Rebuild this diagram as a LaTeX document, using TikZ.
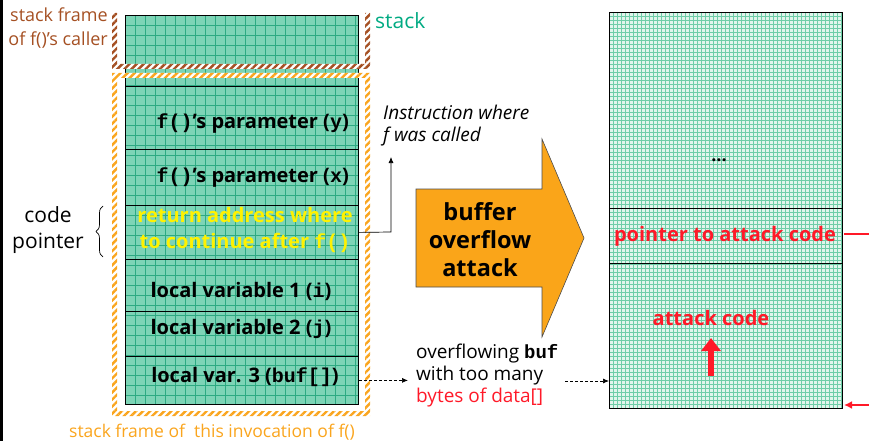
\documentclass[tikz,border=0pt]{standalone}
\usepackage{fontspec}
\setmainfont{Open Sans}
\newfontfamily\codefont{Liberation Mono}
\usetikzlibrary{patterns.meta,arrows.meta,decorations.pathreplacing,calc}
\definecolor{leftfill}{RGB}{125,212,182}
\definecolor{leftgrid}{RGB}{45,170,130}
\definecolor{rightfill}{RGB}{225,245,236}
\definecolor{rightgrid}{RGB}{110,205,168}
\definecolor{brownF}{RGB}{165,80,35}
\definecolor{orangeF}{RGB}{250,165,30}
\definecolor{stackgreen}{RGB}{0,170,130}
\definecolor{attackred}{RGB}{255,25,40}
\definecolor{arrowfill}{RGB}{250,165,25}
\newcommand{\cf}[1]{{\codefont\bfseries #1}}
\begin{document}
\begin{tikzpicture}[x=1pt,y=-1pt,
  cell/.style={draw=black, line width=0.8pt, minimum width=233pt, inner sep=0pt, anchor=north west},
  celltext/.style={font=\bfseries\fontsize{20}{26}\selectfont, inner sep=0pt},
  redtext/.style={font=\bfseries\fontsize{20}{24}\selectfont, text=attackred, inner sep=0pt},
  label/.style={font=\fontsize{18}{24}\selectfont, inner sep=0pt, align=left},
  dasharrow/.style={densely dashed, line width=0.7pt, -{Latex[length=6pt,width=5pt]}}]
\useasboundingbox (0,0) rectangle (869,441);
\draw[line width=3pt] (1.5,0) -- (1.5,441);

% ---------- left stack ----------
\begin{scope}
  \clip (125,15) rectangle (358,404);
  \fill[leftfill] (125,15) rectangle (358,404);
  \foreach \gx in {125,135,...,365} \draw[leftgrid, line width=0.6pt] (\gx,15) -- (\gx,404);
  \foreach \gy in {15,25,...,405} \draw[leftgrid, line width=0.6pt] (125,\gy) -- (358,\gy);
\end{scope}
\node[cell, minimum height=71pt] (caller) at (125,15) {};
\node[cell, minimum height=63pt] (py) at (125,86) {};
\node[cell, minimum height=56pt] (px) at (125,149) {};
\node[cell, minimum height=54pt] (ret) at (125,205) {};
\node[cell, minimum height=52pt] (l1) at (125,259) {};
\node[cell, minimum height=45pt] (l2) at (125,311) {};
\node[cell, minimum height=48pt] (l3) at (125,356) {};

\node[celltext, anchor=east] (tpy) at (349,124) {\cf{f()}'s parameter (\cf{y})};
\node[celltext, anchor=east] (tpx) at (349,178) {\cf{f()}'s parameter (\cf{x})};
\node[celltext, text=yellow, align=center] (tret) at (245,230) {return address where\\to continue after \cf{f()}};
\node[celltext] (tl1) at (241,291) {local variable 1 (\cf{i})};
\node[celltext] (tl2) at (241,329) {local variable 2 (\cf{j})};
\node[celltext] (tl3) at (245,377) {local var. 3 (\cf{buf[]})};

% ---------- frames ----------
\fill[white] (112,13) -- (112,69) -- (370,69) -- (370,13) -- (365,13) -- (365,64) -- (117,64) -- (117,13) -- cycle;
\fill[pattern={Lines[angle=45,distance=5pt,line width=2.4pt]}, pattern color=brownF]
  (112,13) -- (112,69) -- (370,69) -- (370,13) -- (365,13) -- (365,64) -- (117,64) -- (117,13) -- cycle;
\fill[white, even odd rule] (112,73) rectangle (370,416) (117,78) rectangle (365,411);
\fill[pattern={Lines[angle=45,distance=5pt,line width=2.4pt]}, pattern color=orangeF, even odd rule]
  (112,73) rectangle (370,416) (117,78) rectangle (365,411);

% ---------- labels ----------
\node[label, text=brownF, align=right, anchor=north east] (callerlbl) at (108,8) {stack frame\\of f()'s caller};
\node[label, font=\fontsize{21}{24}\selectfont, text=stackgreen, anchor=west] (stacklbl) at (375,21) {stack};
\node[label, font=\fontsize{17.5}{20}\selectfont, text=orangeF, anchor=center] (framelbl) at (212,432) {stack frame of\ \ this invocation of f()};
\node[label, font=\fontsize{21}{26}\selectfont, align=center] (codeptr) at (48,230) {code\\pointer};
\draw[line width=0.7pt, decorate, decoration={brace, amplitude=7pt}] (103,257) -- (103,206);

\node[label, font=\itshape\fontsize{19}{22}\selectfont, anchor=north west] (instr) at (383,105) {Instruction where\\f was called};
\coordinate (instrpt) at (391,157);
\draw[line width=0.7pt, -{Latex[length=6pt,width=5pt]}] (ret.east) -- (391,232) -- (instrpt);

% ---------- big arrow ----------
\draw[fill=arrowfill, draw=black!70, line width=0.6pt]
  (416,189) -- (542,189) -- (542,139) -- (584,238) -- (542,337) -- (542,287) -- (416,287) -- cycle;
\node[font=\bfseries\fontsize{23.5}{28}\selectfont, align=center, inner sep=0pt] (bof) at (480,240) {buffer\\overflow\\attack};

% ---------- overflow text ----------
\node[label, font=\fontsize{19}{22}\selectfont, anchor=west] (ovf) at (416,376) {overflowing \cf{buf}\\with too many\\\textcolor{attackred}{bytes of data[]}};
\draw[dasharrow, shorten >=8pt] (l3.east) -- (ovf.west |- l3.east);

% ---------- right stack ----------
\begin{scope}
  \clip (609,12) rectangle (842,408);
  \fill[rightfill] (609,12) rectangle (842,408);
  \foreach \gx in {609,613,...,845} \draw[rightgrid, line width=0.45pt] (\gx,12) -- (\gx,408);
  \foreach \gy in {12,16,...,410} \draw[rightgrid, line width=0.45pt] (609,\gy) -- (842,\gy);
\end{scope}
\node[cell, minimum height=196pt] (rtop) at (609,12) {};
\node[cell, minimum height=55pt] (rptr) at (609,208) {};
\node[cell, minimum height=145pt] (rcode) at (609,263) {};
\node[font=\bfseries\fontsize{18}{20}\selectfont, inner sep=0pt] (dots) at (719,160) {...};
\node[redtext] (tptr) at (725,236) {pointer to attack code};
\node[redtext] (tcode) at (711,318) {attack code};
\coordinate (upbot) at (711,376);
\coordinate (uptop) at (711,338);
\draw[attackred, line width=6pt, -{Triangle[length=13pt,width=19pt]}] (upbot) -- (uptop);

\coordinate (ovfend) at (565,381);
\draw[dasharrow] (ovfend) -- (rcode.west |- ovfend);

\coordinate (ptrmark) at (869,234);
\draw[attackred, line width=2pt] (ptrmark) -- (844,234);
\coordinate (botmark) at (869,405);
\draw[attackred, line width=2pt, -{Latex[length=8pt,width=8pt]}] (botmark) -- (844,405);
\end{tikzpicture}
\end{document}
